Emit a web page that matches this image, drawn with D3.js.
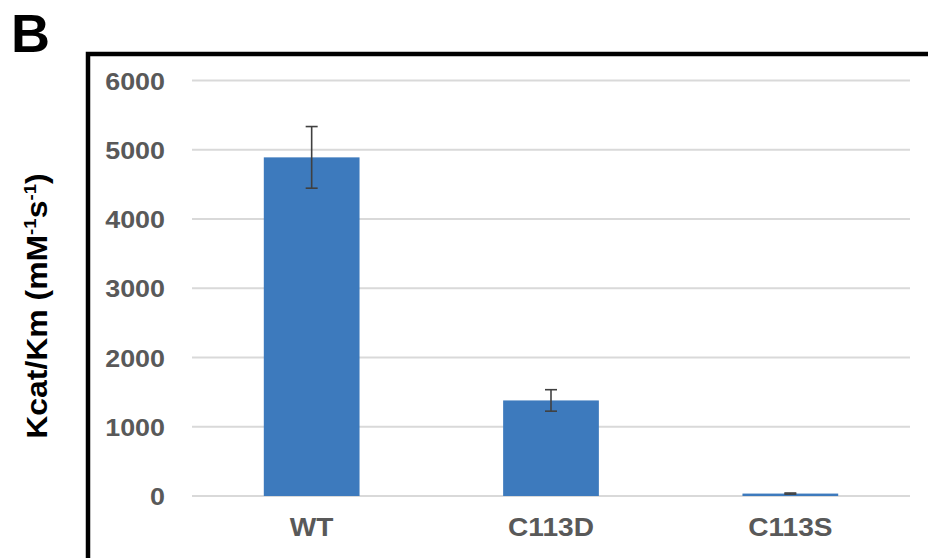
<!DOCTYPE html>
<html>
<head>
<meta charset="utf-8">
<script src="https://cdn.jsdelivr.net/npm/d3@7"></script>
<style>
  html, body { margin: 0; padding: 0; background: #fff; }
  svg { display: block; }
</style>
</head>
<body>
<svg id="chart" width="928" height="558"></svg>
<script>
// Catalytic efficiency per variant
const categories = ["WT", "C113D", "C113S"];
const values = [4890, 1380, 35];
const errors = [445, 155, 8];
const yTicks = [0, 1000, 2000, 3000, 4000, 5000, 6000];

const svg = d3.select("#chart");
const FONT = "'Liberation Sans', Arial, sans-serif";

const x = d3.scaleBand()
  .domain(categories)
  .range([192, 910])
  .paddingInner(0.6)
  .paddingOuter(0.3);

const y = d3.scaleLinear()
  .domain([0, 6000])
  .range([496, 80.5]);

// panel letter
svg.append("text")
  .attr("x", 11)
  .attr("y", 52)
  .attr("font-family", FONT)
  .attr("font-weight", "bold")
  .attr("font-size", 54)
  .attr("fill", "#000")
  .text("B");

// panel frame (top and left edges)
svg.append("path")
  .attr("d", "M88,558 V54 H928")
  .attr("fill", "none")
  .attr("stroke", "#000")
  .attr("stroke-width", 4.5);

// horizontal gridlines
svg.append("g")
  .selectAll("line")
  .data(yTicks)
  .join("line")
  .attr("x1", x.range()[0])
  .attr("x2", x.range()[1])
  .attr("y1", d => y(d))
  .attr("y2", d => y(d))
  .attr("stroke", "#d9d9d9")
  .attr("stroke-width", 2);

// y axis labels
const yAxis = svg.append("g")
  .attr("transform", `translate(${x.range()[0]},0)`)
  .call(d3.axisLeft(y).tickValues(yTicks).tickSize(0).tickFormat(d3.format("d")));
yAxis.select(".domain").remove();
yAxis.selectAll("text")
  .attr("x", 0)
  .attr("dy", "0.36em")
  .attr("transform", "translate(-27,0) scale(1.12,1)")
  .attr("font-family", FONT)
  .attr("font-weight", "bold")
  .attr("font-size", 24)
  .attr("fill", "#595959")
  .attr("text-anchor", "end");

// bars
svg.append("g")
  .selectAll("rect")
  .data(categories)
  .join("rect")
  .attr("x", d => x(d))
  .attr("width", x.bandwidth())
  .attr("y", (d, i) => y(values[i]))
  .attr("height", (d, i) => y(0) - y(values[i]))
  .attr("fill", "#3d7abd");

// error bars
const eb = svg.append("g")
  .attr("stroke", "#404040")
  .attr("stroke-width", 1.6)
  .selectAll("g")
  .data(categories)
  .join("g")
  .attr("transform", d => `translate(${x(d) + x.bandwidth() / 2},0)`);
eb.append("line")
  .attr("y1", (d, i) => y(values[i] + errors[i]))
  .attr("y2", (d, i) => y(values[i] - errors[i]));
eb.append("line")
  .attr("x1", -6).attr("x2", 6)
  .attr("y1", (d, i) => y(values[i] + errors[i]))
  .attr("y2", (d, i) => y(values[i] + errors[i]));
eb.append("line")
  .attr("x1", -6).attr("x2", 6)
  .attr("y1", (d, i) => y(values[i] - errors[i]))
  .attr("y2", (d, i) => y(values[i] - errors[i]));

// x axis labels
const xAxis = svg.append("g")
  .attr("transform", `translate(0,${y(0)})`)
  .call(d3.axisBottom(x).tickSize(0));
xAxis.select(".domain").remove();
xAxis.selectAll(".tick").each(function () {
  const t = d3.select(this).select("text");
  t.attr("y", 0)
    .attr("dy", 0)
    .attr("transform", "translate(0,40) scale(1.08,1)")
    .attr("font-family", FONT)
    .attr("font-weight", "bold")
    .attr("font-size", 26)
    .attr("fill", "#595959")
    .attr("text-anchor", "middle");
});

// y axis title with superscripts
const title = svg.append("text")
  .attr("transform", "translate(47,306) rotate(-90) scale(1.1,1)")
  .attr("text-anchor", "middle")
  .attr("font-family", FONT)
  .attr("font-weight", "bold")
  .attr("font-size", 29)
  .attr("fill", "#000");
title.append("tspan").text("Kcat/Km (mM");
title.append("tspan").attr("font-size", 17).attr("dy", -11).text("-1");
title.append("tspan").attr("dy", 11).text("s");
title.append("tspan").attr("font-size", 17).attr("dy", -11).text("-1");
title.append("tspan").attr("dy", 11).text(")");
</script>
</body>
</html>
